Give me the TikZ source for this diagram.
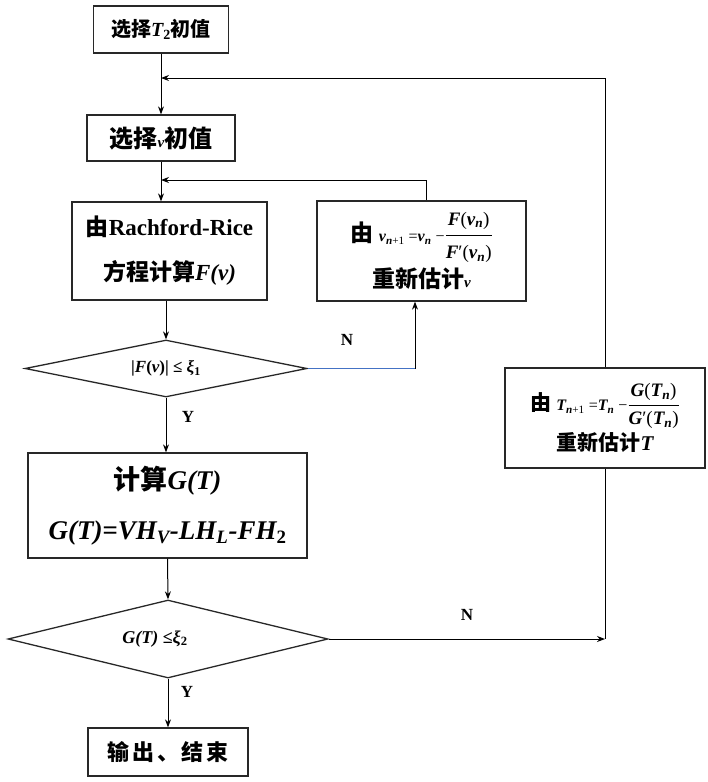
\documentclass[tikz,border=0pt]{standalone}
\usepackage{fontspec}
\setmainfont{Liberation Serif}
\newfontfamily\cjk{Noto Sans CJK SC}
\newfontfamily\cjkw{Noto Sans CJK SC}[LetterSpace=12]
\usetikzlibrary{arrows.meta,shapes.geometric}
\newcommand\zh[1]{{\cjk\bfseries #1}}
\newcommand\bi[1]{{\bfseries\itshape #1}}
\newcommand\fs[2]{\fontsize{#1}{#2}\selectfont}
\definecolor{edge}{RGB}{40,40,40}
\definecolor{nline}{RGB}{68,114,196}
\begin{document}
\begin{tikzpicture}[x=1pt,y=-1pt,
  box/.style={draw=edge, line width=1.3pt, rectangle, inner sep=0pt, align=center},
  dia/.style={draw=edge, line width=1.3pt, diamond, inner sep=0pt},
  arr/.style={draw=black, line width=1pt, -{Stealth[length=8pt,width=6pt]}},
  ln/.style={draw=black, line width=1pt},
  lbl/.style={font=\bfseries\fs{17}{20}, inner sep=0pt}]
\path[use as bounding box] (0,0) rectangle (708,782);

\node[box, minimum width=135pt, minimum height=47pt, font=\fs{20}{24}] (b1) at (161,29.5)
  {\zh{选择}\bi{T}\textsubscript{\bfseries 2}\zh{初值}};
\node[box, minimum width=148pt, minimum height=46pt, font=\fs{24}{28}] (b2) at (161,138)
  {\zh{选择}{\fs{15}{16}\bi{v}}\zh{初值}};
\node[box, minimum width=195pt, minimum height=98pt, font=\fs{23}{45}] (b3) at (169.5,251)
  {\zh{由}\textbf{Rachford-Rice}\\\zh{方程计算}\bi{F(v)}};
\node[box, minimum width=209pt, minimum height=100pt, font=\fs{23}{46}] (b4) at (421.5,251)
  {\zh{由} {\fs{16}{18}\bi{v}\textsubscript{\bi{n}+1} =\bi{v}\textsubscript{\bi{n}} −}$\displaystyle\frac{\hbox{\fs{19}{21}\bi{F}(\bi{v}\textsubscript{\bi{n}})}}{\hbox{\fs{19}{21}\bi{F}′(\bi{v}\textsubscript{\bi{n}})}}$\\\zh{重新估计}{\fs{15}{16}\bi{v}}};
\node[dia, minimum width=282pt, minimum height=57pt] (d1) at (166,368.5) {};
\node[inner sep=0pt, font=\bfseries\fs{17}{20}] (t1) at (d1) {|\bi{F}(\bi{v})| ≤ \bi{ξ}\textsubscript{1}};
\node[box, minimum width=279pt, minimum height=105pt, font=\fs{27}{50}] (b5) at (167.5,505.5)
  {\zh{计算}\bi{G(T)}\\\bi{G(T)=VH\textsubscript{V}-LH\textsubscript{L}-FH}\textsubscript{\bfseries 2}};
\node[dia, minimum width=320pt, minimum height=78pt] (d2) at (168,639) {};
\node[inner sep=0pt, font=\bfseries\fs{18}{20}] (t2) at (155,639) {\bi{G(T)} ≤\bi{ξ}\textsubscript{2}};
\node[box, minimum width=200pt, minimum height=100pt, font=\fs{21}{40}] (b6) at (605,418)
  {\zh{由} {\fs{16}{18}\bi{T}\textsubscript{\bi{n}+1} =\bi{T}\textsubscript{\bi{n}} −}$\displaystyle\frac{\hbox{\fs{19}{21}\bi{G}(\bi{T}\textsubscript{\bi{n}})}}{\hbox{\fs{19}{21}\bi{G}′(\bi{T}\textsubscript{\bi{n}})}}$\\\zh{重新估计}\bi{T}};
\node[box, minimum width=160pt, minimum height=48pt, font=\fs{22}{26}] (b7) at (168,752)
  {{\cjkw\bfseries 输出、结束}};

\coordinate (j1) at (161,78);
\coordinate (j2) at (161,180);
\coordinate (k1) at (415,368.5);
\coordinate (k2) at (b6.south |- d2.east);

\draw[arr] (b1) -- (b2);
\draw[arr] (b6.north) |- (j1);
\draw[arr] (b2.south) -- (b2.south |- b3.north);
\draw[arr] ([xshift=5pt]b4.north) |- (j2);
\draw[arr] (b3.south -| d1.north) -- (d1.north);
\draw[nline, line width=1pt] (d1.east) -- (k1);
\draw[arr] (k1) -- (k1 |- b4.south);
\node[lbl] (n1) at (347,340) {N};
\node[lbl] (y1) at (188,417) {Y};
\draw[arr] (d1.south) -- (d1.south |- b5.north);
\draw[arr] (b5.south) -- (d2.north);
\draw[ln] (b6.south) -- (k2);
\draw[arr] (d2.east) -- (k2);
\node[lbl] (n2) at (467,615) {N};
\node[lbl] (y2) at (187,692) {Y};
\draw[arr] (d2.south) -- (d2.south |- b7.north);
\end{tikzpicture}
\end{document}
